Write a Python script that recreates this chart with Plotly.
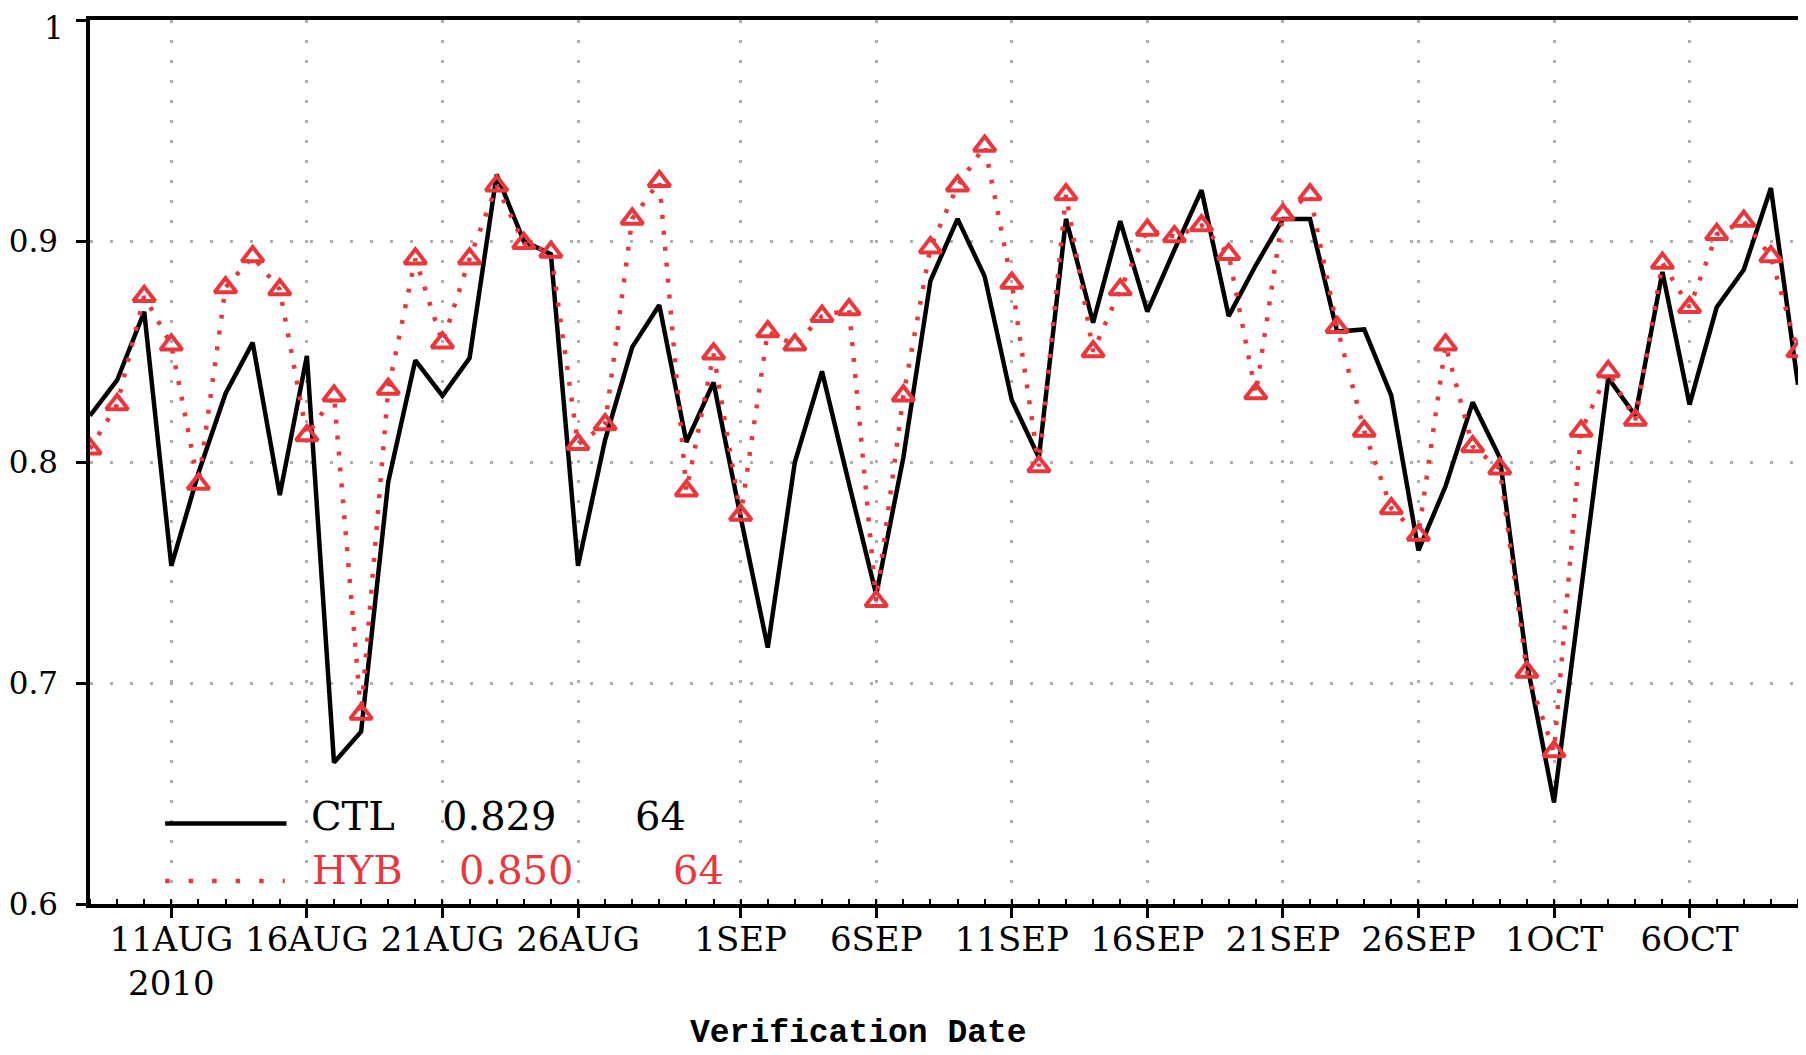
import plotly.graph_objects as go

# ---------------- data ----------------
dates = (
    ["2010-08-%02d" % d for d in range(8, 32)]
    + ["2010-09-%02d" % d for d in range(1, 31)]
    + ["2010-10-%02d" % d for d in range(1, 11)]
)

ctl = [0.821, 0.837, 0.868, 0.753, 0.795, 0.831, 0.854, 0.785, 0.848, 0.664,
       0.678, 0.791, 0.846, 0.830, 0.847, 0.930, 0.900, 0.894, 0.753, 0.810,
       0.852, 0.871, 0.809, 0.836, 0.775, 0.716, 0.800, 0.841, 0.790, 0.740,
       0.802, 0.882, 0.910, 0.884, 0.828, 0.802, 0.910, 0.863, 0.909, 0.868,
       0.896, 0.923, 0.866, 0.889, 0.910, 0.910, 0.859, 0.860, 0.830, 0.760,
       0.789, 0.827, 0.802, 0.709, 0.646, 0.741, 0.838, 0.821, 0.886, 0.826,
       0.870, 0.887, 0.924, 0.835]

hyb = [0.806, 0.826, 0.875, 0.853, 0.790, 0.879, 0.893, 0.878, 0.812, 0.830,
       0.686, 0.833, 0.892, 0.854, 0.892, 0.925, 0.899, 0.895, 0.808, 0.817,
       0.910, 0.927, 0.787, 0.849, 0.776, 0.859, 0.853, 0.866, 0.869, 0.737,
       0.830, 0.897, 0.925, 0.943, 0.881, 0.798, 0.921, 0.850, 0.878, 0.905,
       0.902, 0.907, 0.894, 0.831, 0.912, 0.921, 0.861, 0.814, 0.779, 0.767,
       0.853, 0.807, 0.797, 0.705, 0.669, 0.814, 0.841, 0.819, 0.890, 0.870,
       0.903, 0.909, 0.893, 0.850]

x_tickvals = ["2010-08-11", "2010-08-16", "2010-08-21", "2010-08-26",
              "2010-09-01", "2010-09-06", "2010-09-11", "2010-09-16",
              "2010-09-21", "2010-09-26", "2010-10-01", "2010-10-06"]
x_ticktext = ["11AUG<br>2010", "16AUG", "21AUG", "26AUG", "1SEP", "6SEP",
              "11SEP", "16SEP", "21SEP", "26SEP", "1OCT", "6OCT"]
y_tickvals = [0.6, 0.7, 0.8, 0.9, 1.0]
y_ticktext = ["0.6", "0.7", "0.8", "0.9", ""]
y_top_label = "1"

legend_rows = [("CTL", "0.829", "64"), ("HYB", "0.850", "64")]

# ---------------- style ----------------
RED = "#e8383d"
BLACK = "#000000"
GRID = "#adadad"
FONT = "DejaVu Serif"

fig = go.Figure()

fig.add_trace(go.Scatter(
    x=dates, y=ctl, mode="lines", name="CTL",
    line=dict(color=BLACK, width=4.5),
))
fig.add_trace(go.Scatter(
    x=dates, y=hyb, mode="lines+markers", name="HYB",
    line=dict(color=RED, width=4.5, dash="4px,12px"),
    marker=dict(symbol="triangle-up-open", size=19, color=RED,
                line=dict(color=RED, width=4)),
))

# the page body has an 8px default margin: compensate so the plot area
# lands at the reference position in the 1806x1055 window
fig.update_layout(
    width=1798, height=1047,
    margin=dict(l=82, r=8, t=12, b=151),
    paper_bgcolor="white", plot_bgcolor="white",
    showlegend=False,
    font=dict(family=FONT, color=BLACK, size=34),
)

fig.update_xaxes(
    type="date",
    range=[dates[0], dates[-1]],
    tickvals=x_tickvals, ticktext=x_ticktext,
    tickfont=dict(family=FONT, size=34, color=BLACK),
    ticks="outside", ticklen=10, tickwidth=2.5, tickcolor=BLACK,
    ticklabelstandoff=-8,
    automargin=False,
    showline=True, linecolor=BLACK, linewidth=3.5, mirror=True,
    showgrid=True, gridcolor=GRID, gridwidth=3, griddash="3px,17px",
    minor=dict(dtick=86400000, ticks="inside", ticklen=5, tickwidth=1.5,
               tickcolor=BLACK, showgrid=False),
    zeroline=False,
)
fig.update_yaxes(
    range=[0.6, 1.0],
    tickvals=y_tickvals, ticktext=y_ticktext,
    tickfont=dict(family=FONT, size=31, color=BLACK),
    ticks="outside", ticklen=10, tickwidth=2.5, tickcolor=BLACK,
    ticklabelstandoff=12,
    ticklabeloverflow="allow",
    automargin=False,
    showline=True, linecolor=BLACK, linewidth=3.5, mirror=True,
    showgrid=True, gridcolor=GRID, gridwidth=3, griddash="3px,17px",
    zeroline=False,
)

# top tick label, kept just inside the page
fig.add_annotation(
    xref="paper", yref="paper", x=0, y=1, xshift=-24, yshift=12,
    text=y_top_label, showarrow=False, xanchor="right", yanchor="top",
    font=dict(family=FONT, size=31, color=BLACK),
)

# ---------------- in-plot legend ----------------
fig.add_shape(type="line", xref="paper", yref="paper",
              x0=0.044, x1=0.115, y0=0.091, y1=0.091,
              line=dict(color=BLACK, width=4.5))
fig.add_shape(type="line", xref="paper", yref="paper",
              x0=0.044, x1=0.114, y0=0.026, y1=0.026,
              line=dict(color=RED, width=4.5, dash="4.5px,19px"))

row_y = [0.099, 0.039]
row_x = [[0.128, 0.205, 0.318], [0.129, 0.215, 0.340]]
row_col = [BLACK, RED]
for r, (name, score, n) in enumerate(legend_rows):
    for c, txt in enumerate((name, score, n)):
        fig.add_annotation(
            xref="paper", yref="paper", x=row_x[r][c], y=row_y[r],
            text=txt, showarrow=False, xanchor="left", yanchor="middle",
            font=dict(family=FONT, size=40, color=row_col[r]),
        )

# axis title
fig.add_annotation(
    xref="paper", yref="paper", x=0.45, y=-0.146,
    text="<b>Verification Date</b>", showarrow=False,
    xanchor="center", yanchor="middle",
    font=dict(family="Liberation Mono", size=33, color=BLACK),
)

fig.write_html("out.html")
